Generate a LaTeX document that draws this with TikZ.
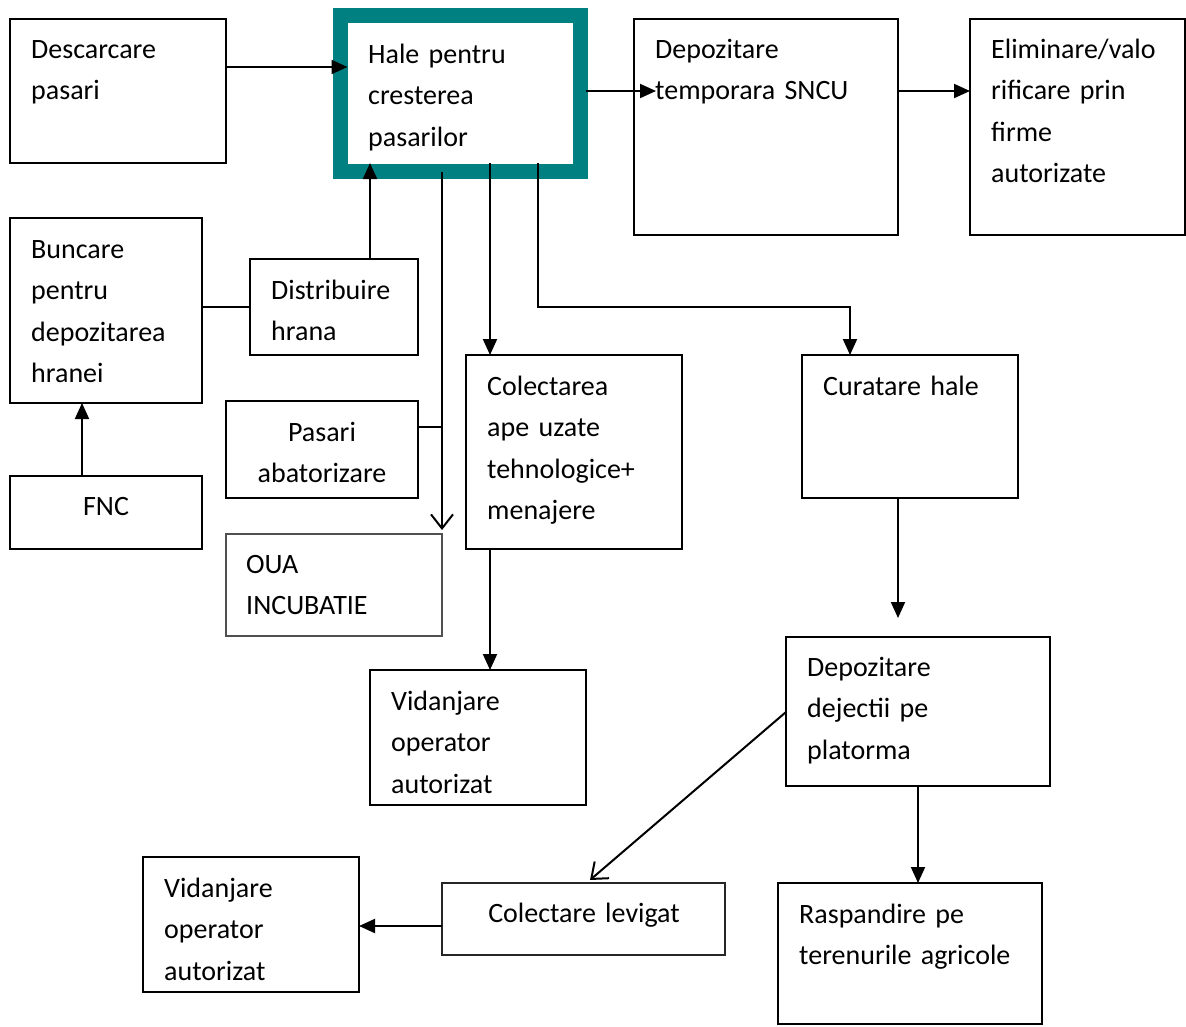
\documentclass[tikz,border=0pt]{standalone}
\usepackage{fontspec}
\setmainfont{Carlito}
\usetikzlibrary{arrows.meta,calc}
\definecolor{tealbox}{RGB}{0,128,128}
\definecolor{grayline}{RGB}{80,80,80}
\begin{document}
\begin{tikzpicture}[x=1pt,y=-1pt,
  box/.style={draw, line width=1.8pt, anchor=north west, inner sep=0pt, outer sep=0pt},
  graybox/.style={box, draw=grayline, line width=1.3pt},
  txt/.style={anchor=base west, align=left, inner sep=0pt, text width=320pt, font=\fontsize{28}{41.3}\selectfont},
  ctxt/.style={anchor=base, align=center, inner sep=0pt, text width=260pt, font=\fontsize{28}{41.3}\selectfont},
  ln/.style={line width=2pt},
  thinln/.style={line width=1.4pt},
  arr/.style={line width=2pt, -{Triangle[length=16pt,width=14pt]}},
  oarr/.style={line width=2pt, -{Straight Barb[length=14pt,width=22pt,line width=2pt]}}]
\useasboundingbox[fill=white] (0,0) rectangle (1186,1026);

% boxes
\node[box, minimum width=216pt, minimum height=144pt] (desc) at (10,19) {};
\node[box, draw=tealbox, line width=15pt, minimum width=240pt, minimum height=156pt] (hale) at (340.5,15.5) {};
\node[box, minimum width=264pt, minimum height=216pt] (dep) at (634,19) {};
\node[box, minimum width=215pt, minimum height=216pt] (elim) at (970,19) {};
\node[box, minimum width=192pt, minimum height=185pt] (bunc) at (10,218) {};
\node[box, minimum width=168pt, minimum height=96pt] (distr) at (250,259) {};
\node[box, minimum width=192pt, minimum height=73pt] (fnc) at (10,476) {};
\node[box, minimum width=192pt, minimum height=97pt] (pasab) at (226,401) {};
\node[graybox, minimum width=216pt, minimum height=102pt] (oua) at (226,534) {};
\node[box, minimum width=216pt, minimum height=194pt] (colap) at (466,355) {};
\node[box, minimum width=216pt, minimum height=143pt] (cur) at (802,355) {};
\node[box, minimum width=216pt, minimum height=135pt] (vida) at (370,670) {};
\node[box, minimum width=264pt, minimum height=149pt] (depdej) at (786,637) {};
\node[graybox, draw=black!85, minimum width=283pt, minimum height=72pt] (collev) at (442,883) {};
\node[box, minimum width=216pt, minimum height=135pt] (vidb) at (143,857) {};
\node[box, minimum width=264pt, minimum height=141pt] (rasp) at (778,883) {};

% texts
\node[txt] (tdesc) at (31,58.5) {Descarcare\\pasari};
\node[txt] (thale) at (368,63.5) {Hale pentru\\cresterea\\pasarilor};
\node[txt] (tdep) at (655,58.5) {Depozitare\\temporara SNCU};
\node[txt] (telim) at (991,58.5) {Eliminare/valo\\rificare prin\\firme\\autorizate};
\node[txt] (tbunc) at (31,258.5) {Buncare\\pentru\\depozitarea\\hranei};
\node[txt] (tdistr) at (271,299.5) {Distribuire\\hrana};
\node[ctxt] (tfnc) at (106,515.5) {FNC};
\node[ctxt] (tpasab) at (322,441.5) {Pasari\\abatorizare};
\node[txt] (toua) at (246,573.5) {OUA\\INCUBATIE};
\node[txt] (tcolap) at (487,395.5) {Colectarea\\ape uzate\\tehnologice+\\menajere};
\node[txt] (tcur) at (823,395.5) {Curatare hale};
\node[txt] (tvida) at (391,710.5) {Vidanjare\\operator\\autorizat};
\node[txt] (tdepdej) at (807,676.5) {Depozitare\\dejectii pe\\platorma};
\node[ctxt] (tcollev) at (584,922.5) {Colectare levigat};
\node[txt] (tvidb) at (164,897.5) {Vidanjare\\operator\\autorizat};
\node[txt] (trasp) at (799,923.5) {Raspandire pe\\terenurile agricole};

% helper coordinates
\coordinate (h442) at (442,172);
\coordinate (h490) at (490,163);
\coordinate (h538) at (538,163);
\coordinate (hin) at (370,163);
\coordinate (j538) at (538,307);
\coordinate (j850) at (850,307);
\coordinate (jpas) at (442,427);
\coordinate (ouatip) at (442,530);
\coordinate (curtip) at (898,618);
\coordinate (levtip) at (590,880);

% connectors
\draw[arr] ($(desc.north east)+(0,48)$) -- ($(hale.north west)+(7,51.5)$);
\draw[arr] ($(hale.north east)+(5,75.5)$) -- ($(dep.north west)+(22,72)$);
\draw[arr] ($(dep.north east)+(0,72)$) -- ($(elim.north west)+(0,72)$);
\draw[arr] (distr.north -| hin) -- (hin);
\draw[thinln] (bunc.east |- 0,307) -- (distr.west |- 0,307);
\draw[arr] (fnc.north -| 82,0) -- (bunc.south -| 82,0);
\draw[oarr] (h442) -- (ouatip);
\draw[ln] (pasab.east |- jpas) -- (jpas);
\draw[arr] (h490) -- (colap.north -| h490);
\draw[arr] (h538) -- (j538) -- (j850) -- (cur.north -| j850);
\draw[arr] (colap.south -| 490,0) -- (vida.north -| 490,0);
\draw[arr] (cur.south -| curtip) -- (curtip);
\draw[oarr] (depdej.west |- 0,712) -- (levtip);
\draw[arr] (depdej.south -| 918,0) -- (rasp.north -| 918,0);
\draw[arr] (collev.west |- 0,926) -- (vidb.east |- 0,926);
\end{tikzpicture}
\end{document}
